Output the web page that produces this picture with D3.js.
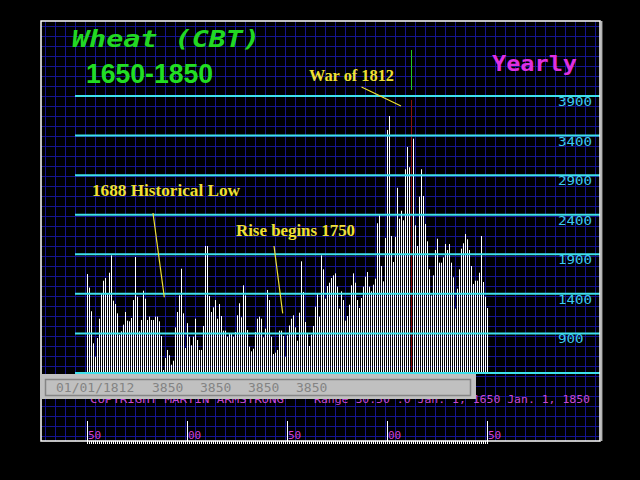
<!DOCTYPE html>
<html><head><meta charset="utf-8">
<script src="https://cdn.jsdelivr.net/npm/d3@7"></script>
<style>html,body{margin:0;padding:0;background:#000;}svg{display:block}</style>
</head><body>
<svg id="c" width="640" height="480"></svg>
<script>
// ---------- DATA ----------
const startYear = 1650;
const endYear = 1850;
const prices = [
 1650,1480,1180,775,606,842,1086,1400,1566,1600,
 1400,1667,1887,1314,1272,1154,884,927,1011,1171,
 1061,1053,1095,1322,1866,1364,927,1070,1440,1339,
 1070,1112,1070,1070,1112,1112,1053,867,438,590,
 691,624,505,555,977,1171,1381,1718,1154,716,
 1030,859,750,859,1086,817,691,691,994,2005,
 2005,1373,1171,1230,1322,1086,1272,1120,935,935,
 859,893,893,859,918,1129,1281,1104,1508,1381,
 943,733,674,707,918,1086,1112,1086,851,960,
 1449,1322,859,640,657,691,935,935,867,606,
 876,1000,1086,1129,977,808,1162,1811,1424,1044,
 893,741,884,994,1238,1398,1112,1887,1710,1339,
 1499,1541,1600,1634,1659,1491,1213,1432,1322,1061,
 1120,1263,1508,1659,1541,1322,1221,1348,1491,1617,
 1676,1491,1432,1516,1592,2292,2393,1752,1558,2106,
 3471,3647,2131,1803,2120,2740,2350,2450,2330,2974,
 3256,3000,3850,3361,2266,2005,2628,2974,2637,2283,
 2064,1710,1381,1634,1954,2097,1794,1794,1862,2030,
 1954,2030,1794,1609,1213,1465,1710,1971,2039,2156,
 2089,1954,1752,1525,1566,1566,1667,2131,1550,1364,
 1221
];
const years = prices.map((_, i) => startYear + i);
const levelValues = [400, 900, 1400, 1900, 2400, 2900, 3400, 3900];
const levelLabels = ["", "900", "1400", "1900", "2400", "2900", "3400", "3900"];
const yearTicks = [1650, 1700, 1750, 1800, 1850];
const yearTickLabels = ["50", "00", "50", "00", "50"];
const cursorYear = 1812;
const statusTexts = ["01/01/1812", "3850", "3850", "3850", "3850"];
const titleText = "Wheat (CBT)";
const rangeText = "1650-1850";
const periodText = "Yearly";
const copyrightText = "COPYRIGHT MARTIN ARMSTRONG";
const rangeInfoText = "Range   30.50 :0 Jan.  1,  1650 Jan.  1,  1850";
const annotations = [
  {text: "War of 1812",         from: [1787.0, 4014], to: [1806.75, 3774]},
  {text: "1688 Historical Low", from: [1682.75, 2422], to: [1688.4, 1357]},
  {text: "Rise begins 1750",    from: [1743.25, 2005], to: [1747.6, 1154]}
];

// ---------- DRAW ----------
const svg = d3.select("#c");
const W = 640, H = 480;
const frame = {x0: 41, y0: 21, x1: 600, y1: 441};

svg.append("rect").attr("width", W).attr("height", H).attr("fill", "#000");

// grid
const grid = svg.append("g").attr("stroke", "#15158e").attr("stroke-width", 1);
for (let x = frame.x0 + 4.5; x < frame.x1; x += 10)
  grid.append("line").attr("x1", x).attr("x2", x).attr("y1", frame.y0).attr("y2", frame.y1);
for (let y = frame.y0 + 5.5; y < frame.y1; y += 10)
  grid.append("line").attr("x1", frame.x0).attr("x2", frame.x1).attr("y1", y).attr("y2", y);

const xs = d3.scaleLinear().domain([startYear, endYear]).range([87.5, 487.5]);
const ys = d3.scaleLinear().domain([400, 3900]).range([373, 96]);

// bars
svg.append("g").selectAll("rect").data(prices).join("rect")
  .attr("x", (d, i) => xs(years[i]) - 0.5)
  .attr("width", 1)
  .attr("y", d => ys(d))
  .attr("height", d => ys(400) - ys(d) + 1)
  .attr("fill", (d, i) => years[i] === cursorYear ? "#8a1212" : "#ffffff");

// level lines
svg.append("g").selectAll("line").data(levelValues).join("line")
  .attr("x1", 75).attr("x2", frame.x1)
  .attr("y1", d => ys(d)).attr("y2", d => ys(d))
  .attr("stroke", "#3fe0ea").attr("stroke-width", 2);

svg.append("g").selectAll("text").data(levelValues).join("text")
  .attr("x", 558).attr("y", d => ys(d) + 10)
  .attr("font-family", "DejaVu Sans Mono").attr("font-size", 13)
  .attr("fill", "#3ccaf0")
  .attr("textLength", (d, i) => levelLabels[i].length * 8.5)
  .attr("lengthAdjust", "spacingAndGlyphs")
  .text((d, i) => levelLabels[i]);

// cursor
const cx = xs(cursorYear);
svg.append("line").attr("x1", cx).attr("x2", cx).attr("y1", 50).attr("y2", 90)
  .attr("stroke", "#22c822").attr("stroke-width", 1);

// frame
svg.append("rect").attr("x", frame.x0).attr("y", frame.y0)
  .attr("width", frame.x1 - frame.x0).attr("height", frame.y1 - frame.y0)
  .attr("fill", "none").attr("stroke", "#fff").attr("stroke-width", 1.5);
svg.append("line").attr("x1", frame.x1 + 1.8).attr("x2", frame.x1 + 1.8)
  .attr("y1", frame.y0).attr("y2", frame.y1).attr("stroke", "#fff").attr("stroke-width", 1);

// titles
svg.append("text").attr("x", 72).attr("y", 47)
  .attr("font-family", "DejaVu Sans Mono").attr("font-weight", "bold").attr("font-style", "italic")
  .attr("font-size", 23).attr("fill", "#22d822")
  .attr("textLength", 188).attr("lengthAdjust", "spacingAndGlyphs").text(titleText);
svg.append("text").attr("x", 86).attr("y", 83)
  .attr("font-family", "Liberation Sans, Arial").attr("font-weight", "bold")
  .attr("font-size", 27).attr("fill", "#22dd22")
  .attr("textLength", 127).attr("lengthAdjust", "spacingAndGlyphs").text(rangeText);
svg.append("text").attr("x", 492).attr("y", 70.5)
  .attr("font-family", "DejaVu Sans Mono").attr("font-weight", "bold")
  .attr("font-size", 21).attr("fill", "#e030e0")
  .attr("textLength", 85).attr("lengthAdjust", "spacingAndGlyphs").text(periodText);

// annotations
const annPos = [[309, 81, 85], [92, 196, 148], [236, 236, 119]];
const ag = svg.append("g");
annotations.forEach((a, i) => {
  ag.append("line")
    .attr("x1", xs(a.from[0])).attr("y1", ys(a.from[1]))
    .attr("x2", xs(a.to[0])).attr("y2", ys(a.to[1]))
    .attr("stroke", "#f0e034").attr("stroke-width", 1.2);
  ag.append("text").attr("x", annPos[i][0]).attr("y", annPos[i][1])
    .attr("font-family", "Liberation Serif, DejaVu Serif").attr("font-weight", "bold")
    .attr("font-size", 16).attr("fill", "#f0e034")
    .attr("textLength", annPos[i][2]).attr("lengthAdjust", "spacingAndGlyphs")
    .text(a.text);
});

// copyright line (partly hidden behind status box)
svg.append("text").attr("x", 90).attr("y", 403)
  .attr("font-family", "DejaVu Sans Mono").attr("font-size", 10).attr("fill", "#c848d0")
  .attr("textLength", 194).attr("lengthAdjust", "spacingAndGlyphs").text(copyrightText);
svg.append("text").attr("x", 314).attr("y", 403)
  .attr("font-family", "DejaVu Sans Mono").attr("font-size", 10).attr("fill", "#c848d0")
  .attr("textLength", 276).attr("lengthAdjust", "spacingAndGlyphs").text(rangeInfoText);

// status box
svg.append("rect").attr("x", 40).attr("y", 374).attr("width", 436).attr("height", 25)
  .attr("fill", "#c0c0c0");
svg.append("rect").attr("x", 45.5).attr("y", 379.5).attr("width", 425).attr("height", 16)
  .attr("fill", "none").attr("stroke", "#858585").attr("stroke-width", 1.5);
svg.append("g").selectAll("text").data(statusTexts).join("text")
  .attr("x", (d, i) => i === 0 ? 56 : 152 + 48 * (i - 1))
  .attr("y", 392)
  .attr("font-family", "DejaVu Sans Mono").attr("font-size", 13).attr("fill", "#848484")
  .text(d => d);

// bottom time axis
const ax = svg.append("g");
ax.selectAll("line.major").data(yearTicks).join("line").attr("class", "major")
  .attr("x1", d => xs(d)).attr("x2", d => xs(d)).attr("y1", 421).attr("y2", frame.y1)
  .attr("stroke", "#fff").attr("stroke-width", 1);
ax.selectAll("line.minor").data(years).join("line").attr("class", "minor")
  .attr("x1", d => xs(d)).attr("x2", d => xs(d)).attr("y1", frame.y1).attr("y2", 444)
  .attr("stroke", "#fff").attr("stroke-width", 1);
ax.selectAll("text").data(yearTicks).join("text")
  .attr("x", d => xs(d) + 0.5).attr("y", 438.5)
  .attr("font-family", "DejaVu Sans Mono").attr("font-size", 11).attr("fill", "#d040d8")
  .text((d, i) => yearTickLabels[i]);
</script>
</body></html>
